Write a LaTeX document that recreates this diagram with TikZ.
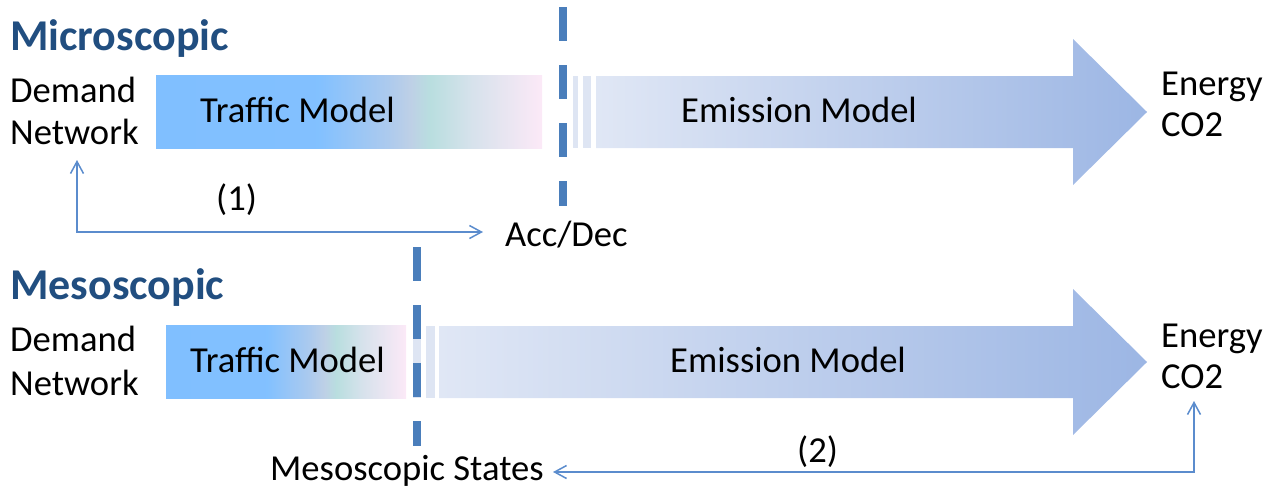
\documentclass[tikz,border=0pt]{standalone}
\usepackage{fontspec}
\setmainfont{Carlito}
\usetikzlibrary{arrows.meta}

\definecolor{headblue}{RGB}{33,78,128}
\definecolor{dashblue}{RGB}{74,126,187}
\definecolor{linkblue}{RGB}{91,140,205}
\definecolor{stripe}{RGB}{222,229,243}
\definecolor{emL}{RGB}{224,231,245}
\definecolor{emR}{RGB}{156,182,228}

% traffic-model bar: flat blue fading through teal into a pale pink
\pgfdeclarehorizontalshading{traffic}{100bp}{
  rgb(0bp)=(0.502,0.749,1);
  rgb(25bp)=(0.502,0.749,1);
  rgb(46bp)=(0.510,0.755,1);
  rgb(55bp)=(0.675,0.792,0.933);
  rgb(58bp)=(0.745,0.816,0.902);
  rgb(60.5bp)=(0.725,0.871,0.875);
  rgb(66bp)=(0.843,0.886,0.925);
  rgb(75bp)=(0.988,0.914,0.969);
  rgb(100bp)=(0.988,0.914,0.969)}

\tikzset{
  txt/.style={inner sep=0pt, anchor=base west, font=\fontsize{36.6}{43}\selectfont},
  title/.style={inner sep=0pt, anchor=base west, text=headblue,
                font=\fontsize{44}{52}\selectfont\bfseries},
  link/.style={draw=linkblue, line width=1.5pt,
               {Straight Barb[length=12pt,width=13pt]}-{Straight Barb[length=12pt,width=13pt]}},
  divider/.style={draw=dashblue, line width=8pt, dash pattern=on 34pt off 24pt},
  trafficbar/.style={shading=traffic},
  emission/.style={left color=emL, right color=emR},
}

\begin{document}
\begin{tikzpicture}[x=1pt, y=-1pt]
\useasboundingbox (0,0) rectangle (1274,488);

% ---------------- microscopic chain ----------------
\node[title] (micro) at (10,50) {Microscopic};
\node[txt] (dem1) at (10,102) {Demand};
\node[txt] (net1) at (10,144) {Network};

\shade[trafficbar] (156,75) rectangle (542,148);
\node[txt] (tm1) at (200,122) {Traffic Model};

\fill[stripe] (573,76) rectangle (578,148);
\fill[stripe] (583,76) rectangle (591,148);
\shade[emission] (596,76) -- (1073,76) -- (1073,39) -- (1147,112)
  -- (1073,185) -- (1073,148) -- (596,148) -- cycle;
\node[txt] (em1) at (681,122) {Emission Model};

\draw[divider] (563,7) -- (563,206);

\node[txt] (out1a) at (1161,95) {Energy};
\node[txt] (out1b) at (1161,136) {CO2};

\node[txt] (acc) at (505,246) {Acc/Dec};
\node[txt] (lab1) at (216,210) {(1)};
\coordinate (in1) at (77,160);
\coordinate (acc1) at (483,232);
\draw[link] (in1) |- (acc1);

% ---------------- mesoscopic chain ----------------
\node[title] (meso) at (10,299) {Mesoscopic};
\node[txt] (dem2) at (10,351) {Demand};
\node[txt] (net2) at (10,395) {Network};

\shade[trafficbar] (166,325) rectangle (406,398);
\node[txt] (tm2) at (190,372) {Traffic Model};

\fill[stripe] (413,326) rectangle (421,398);
\fill[stripe] (426,326) rectangle (435,398);
\shade[emission] (439,326) -- (1073,326) -- (1073,289) -- (1147,362)
  -- (1073,435) -- (1073,398) -- (439,398) -- cycle;
\node[txt] (em2) at (670,372) {Emission Model};

\draw[divider] (417,247) -- (417,446);

\node[txt] (out2a) at (1161,347) {Energy};
\node[txt] (out2b) at (1161,388) {CO2};

\node[txt] (states) at (270,480) {Mesoscopic States};
\node[txt] (lab2) at (797,462) {(2)};
\coordinate (co2) at (1194,401);
\coordinate (st2) at (553,472);
\draw[link] (co2) |- (st2);
\end{tikzpicture}
\end{document}
